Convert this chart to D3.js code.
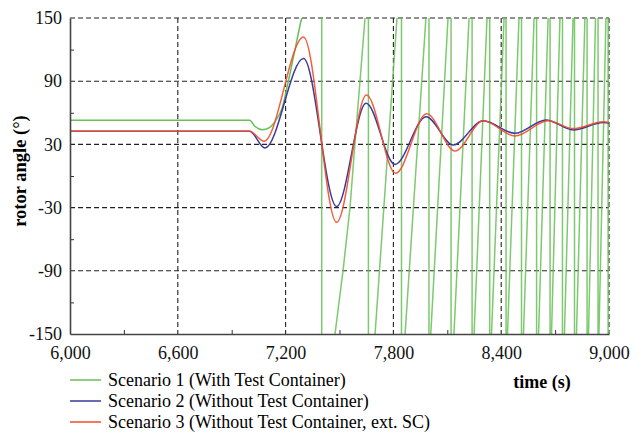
<!DOCTYPE html>
<html>
<head>
<meta charset="utf-8">
<script src="https://cdn.jsdelivr.net/npm/d3@7"></script>
<style>
  html, body { margin: 0; padding: 0; background: #fff; }
  svg { display: block; font-family: "Liberation Serif", "Times New Roman", serif; }
</style>
</head>
<body>
<svg id="chart" width="644" height="434"></svg>
<script>
// axis ticks
const xTicks = [6000, 6600, 7200, 7800, 8400, 9000];
const yTicks = [-150, -90, -30, 30, 90, 150];
const xMinorTicks = [6300, 6900, 7500, 8100, 8700];
const yMinorTicks = [-120, -60, 0, 60, 120];

const seriesNames = [
  "Scenario 1 (With Test Container)",
  "Scenario 2 (Without Test Container)",
  "Scenario 3 (Without Test Container, ext. SC)",
];
const seriesColors = ["#66c056", "#3a3a9c", "#f24c2c"];

// scenario 2 (blue)
const blueTime  = [6000, 7000, 7085, 7300, 7484, 7648, 7809, 7982, 8133, 8300, 8477, 8649, 8801, 8968, 9000];
const blueAngle = [42.5, 42.5, 26.6, 111.5, -29, 69, 11, 56.3, 29.4, 52.5, 40.5, 53.2, 43.7, 50.7, 50.3];

// scenario 3 (red)
const redTime  = [6000, 7000, 7080, 7300, 7484, 7650, 7812, 7985, 8143, 8300, 8477, 8660, 8801, 8968, 9000];
const redAngle = [42.5, 42.5, 33, 132, -44, 77, 2.5, 59, 23.7, 52.5, 38, 52.5, 45, 51.5, 51];

// scenario 1 (green): before loss of synchronism
const greenLeadTime  = [6000, 7000, 7030, 7070, 7110, 7150, 7180, 7210, 7250, 7290, 7340, 7401];
const greenLeadAngle = [53, 53, 47, 44, 46, 54, 64, 86, 118, 150, 170, 180];
// pole slips: time of wrap 180 -> -180, time the curve enters at -150, time it leaves at 150
const slipWrap   = [7401, 7661, 7845, 7998, 8121, 8238, 8336, 8427, 8513, 8597, 8672, 8741, 8808, 8878, 8939, 8995];
const slipBottom = [7475, 7698, 7865, 8008, 8137, 8249, 8346, 8435, 8524, 8608, 8680, 8752, 8819, 8886, 8944, 9000];
const slipTop    = [7642, 7820, 7981, 8104, 8221, 8321, 8416, 8499, 8583, 8661, 8727, 8800, 8866, 8925, 8983];
// first slip is visibly curved
const slip1Time  = [7521, 7559, 7586, 7614];
const slip1Angle = [-88, -29, 31, 90];

const svg = d3.select("#chart");
const plotLeft = 70, plotRight = 609, plotTop = 18, plotBottom = 334;

const x = d3.scaleLinear().domain([6000, 9000]).range([plotLeft, plotRight]);
const y = d3.scaleLinear().domain([-150, 150]).range([plotBottom, plotTop]);

svg.append("defs").append("clipPath").attr("id", "plot-clip")
  .append("rect")
  .attr("x", plotLeft).attr("y", plotTop)
  .attr("width", plotRight - plotLeft).attr("height", plotBottom - plotTop);

// grid
const grid = svg.append("g");
grid.selectAll("line.gx").data(xTicks.slice(1)).join("line")
  .attr("x1", d => x(d)).attr("x2", d => x(d))
  .attr("y1", plotTop).attr("y2", plotBottom)
  .attr("stroke", "#222").attr("stroke-width", 1.1)
  .attr("stroke-dasharray", "5,3");
grid.selectAll("line.gy").data(yTicks.slice(1)).join("line")
  .attr("x1", plotLeft).attr("x2", plotRight)
  .attr("y1", d => y(d)).attr("y2", d => y(d))
  .attr("stroke", "#222").attr("stroke-width", 1.1)
  .attr("stroke-dasharray", "5,3");

// minor ticks, pointing inward
svg.append("g")
  .attr("transform", `translate(0,${plotBottom})`)
  .call(d3.axisBottom(x).tickValues(xMinorTicks).tickSize(-4).tickFormat(""))
  .call(g => g.select(".domain").remove())
  .call(g => g.selectAll("line").attr("stroke", "#333"));
svg.append("g")
  .attr("transform", `translate(${plotLeft},0)`)
  .call(d3.axisLeft(y).tickValues(yMinorTicks).tickSize(-4).tickFormat(""))
  .call(g => g.select(".domain").remove())
  .call(g => g.selectAll("line").attr("stroke", "#333"));

// series
const plot = svg.append("g").attr("clip-path", "url(#plot-clip)");

const smooth = d3.line().x(d => x(d[0])).y(d => y(d[1])).curve(d3.curveMonotoneX);
const straight = d3.line().x(d => x(d[0])).y(d => y(d[1]));

const greenLead = greenLeadTime.map((t, i) => [t, greenLeadAngle[i]]);
const greenSlips = [];
slipWrap.forEach((tw, i) => {
  greenSlips.push([tw, 180], [tw, -180]);
  if (slipBottom[i] != null) greenSlips.push([slipBottom[i], -150]);
  if (i === 0) slip1Time.forEach((t, j) => greenSlips.push([t, slip1Angle[j]]));
  if (slipTop[i] != null) greenSlips.push([slipTop[i], 150]);
});

plot.append("path").datum(greenLead)
  .attr("d", smooth).attr("fill", "none")
  .attr("stroke", seriesColors[0]).attr("stroke-width", 1.5);
plot.append("path").datum(greenSlips)
  .attr("d", straight).attr("fill", "none")
  .attr("stroke", seriesColors[0]).attr("stroke-width", 1.5).attr("stroke-opacity", 0.85);

plot.append("path").datum(blueTime.map((t, i) => [t, blueAngle[i]]))
  .attr("d", smooth).attr("fill", "none")
  .attr("stroke", seriesColors[1]).attr("stroke-width", 1.5);
plot.append("path").datum(redTime.map((t, i) => [t, redAngle[i]]))
  .attr("d", smooth).attr("fill", "none")
  .attr("stroke", seriesColors[2]).attr("stroke-width", 1.5).attr("stroke-opacity", 0.9);

// axes
const xAxis = svg.append("g")
  .attr("transform", `translate(0,${plotBottom})`)
  .call(d3.axisBottom(x).tickValues(xTicks).tickSize(0).tickPadding(12).tickFormat(d3.format(",")));
xAxis.select(".domain").attr("stroke", "#444").attr("stroke-width", 1.6);
xAxis.selectAll("text").attr("font-size", 18).attr("font-family", "Liberation Serif").attr("fill", "#111");

const yAxis = svg.append("g")
  .attr("transform", `translate(${plotLeft},0)`)
  .call(d3.axisLeft(y).tickValues(yTicks).tickSize(0).tickPadding(8).tickFormat(d => String(d)));
yAxis.select(".domain").attr("stroke", "#444").attr("stroke-width", 1.6);
yAxis.selectAll("text").attr("font-size", 18).attr("font-family", "Liberation Serif").attr("fill", "#111");

// axis titles
svg.append("text")
  .attr("transform", `translate(26,171) rotate(-90)`)
  .attr("text-anchor", "middle")
  .attr("font-size", 18.5).attr("font-weight", "bold")
  .text("rotor angle (°)");

svg.append("text")
  .attr("x", 542).attr("y", 388)
  .attr("text-anchor", "middle")
  .attr("font-size", 18).attr("font-weight", "bold")
  .text("time (s)");

// legend
const legend = svg.append("g");
seriesNames.forEach((name, i) => {
  const ly = 380 + i * 21;
  legend.append("line")
    .attr("x1", 70).attr("x2", 101).attr("y1", ly).attr("y2", ly)
    .attr("stroke", seriesColors[i]).attr("stroke-width", 1.5);
  legend.append("text")
    .attr("x", 108).attr("y", ly).attr("dy", "0.33em")
    .attr("font-size", 18)
    .text(name);
});
</script>
</body>
</html>
